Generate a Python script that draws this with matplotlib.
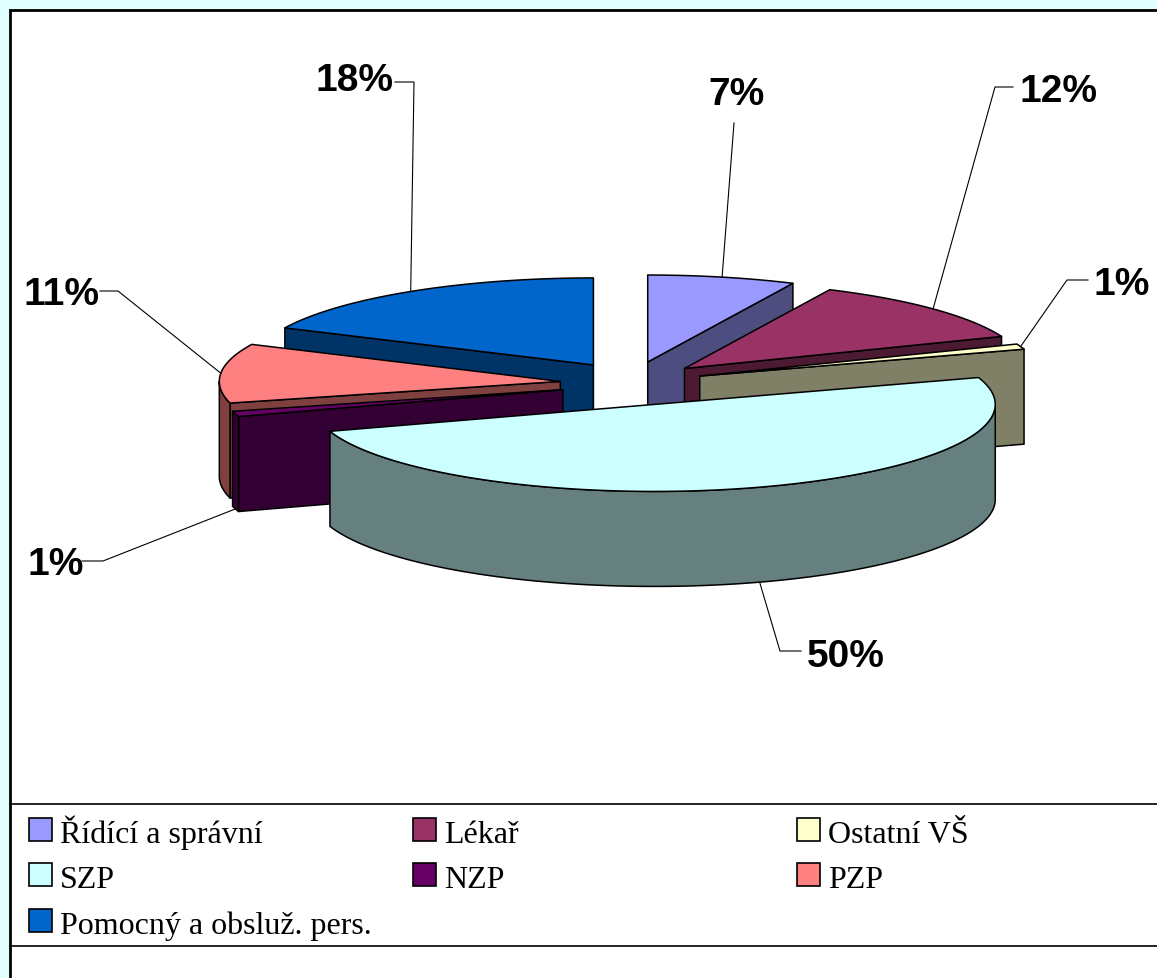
import numpy as np
import matplotlib
matplotlib.use("Agg")
import matplotlib.pyplot as plt
from matplotlib.patches import Polygon, Rectangle
from matplotlib.colors import to_rgb

# ---- data ----
categories = ["Řídící a správní", "Lékař", "Ostatní VŠ", "SZP", "NZP", "PZP",
              "Pomocný a obsluž. pers."]
values = [7, 12, 1, 50, 1, 11, 18]
labels = [f"{v}%" for v in values]

# ---- styles ----
colors = ["#9999FF", "#993366", "#FFFFCC", "#CCFFFF", "#660066", "#FF8080", "#0066CC"]

W, H = 1157, 979
fig = plt.figure(figsize=(W / 100, H / 100), dpi=100)
fig.patch.set_facecolor("#E2FFFF")
ax = fig.add_axes([0, 0, 1, 1])
ax.set_xlim(0, W)
ax.set_ylim(H, 0)
ax.axis("off")
ax.add_patch(Rectangle((10, 11), W + 20, H + 20, facecolor="white",
                       edgecolor="black", lw=2.0, zorder=0))

# ---- 3D pie geometry (pixel space) ----
CX, CY = 632, 384.5
RX, RY = 341, 87
DEPTH = 95
EX, EY = 72, 22


def arc(sx, sy, a0, a1, dz=0.0):
    n = max(2, int(abs(a1 - a0) * 2) + 2)
    th = np.radians(np.linspace(a0, a1, n))
    return np.column_stack([sx + RX * np.sin(th), sy - RY * np.cos(th) + dz])


total = float(sum(values))
starts = np.concatenate([[0], np.cumsum(values)[:-1]]) / total * 360
ends = np.cumsum(values) / total * 360
mids = (starts + ends) / 2

# back-to-front drawing order
order = np.argsort(-np.cos(np.radians(mids)))
ekw = dict(edgecolor="black", lw=1.1, joinstyle="round")

centers = {}
for i in range(len(values)):
    m = np.radians(mids[i])
    centers[i] = (CX + EX * np.sin(m), CY - EY * np.cos(m))

for i in order:
    a0, a1 = starts[i], ends[i]
    sx, sy = centers[i]
    top = colors[i]
    side = tuple(c * 0.5 for c in to_rgb(top))
    # radial faces (only those facing the viewer)
    for ang, vis in ((a0, np.sin(np.radians(a0)) < -1e-6),
                     (a1, np.sin(np.radians(a1)) > 1e-6)):
        if vis:
            e = arc(sx, sy, ang, ang)[0]
            quad = [(sx, sy), tuple(e), (e[0], e[1] + DEPTH), (sx, sy + DEPTH)]
            ax.add_patch(Polygon(quad, closed=True, facecolor=side, zorder=2, **ekw))
    # curved outer side (front half only)
    a, b = max(a0, 90), min(a1, 270)
    if b > a:
        up = arc(sx, sy, a, b)
        dn = arc(sx, sy, a, b, DEPTH)[::-1]
        ax.add_patch(Polygon(np.vstack([up, dn]), closed=True, facecolor=side,
                             zorder=2, **ekw))
    # top face
    pts = np.vstack([[[sx, sy]], arc(sx, sy, a0, a1)])
    ax.add_patch(Polygon(pts, closed=True, facecolor=top, zorder=2, **ekw))

# ---- data labels with leader lines ----
label_text_pos = [(737, 105), (1059, 102), (1122, 295), (846, 667), (56, 575),
                  (61, 305), (355, 91)]
label_elbows = [[(734, 124)], [(1013, 88), (995, 88)], [(1088, 281), (1067, 281)],
                [(801, 652), (780, 652)], [(82, 562), (103, 562)],
                [(100, 292), (118, 292)], [(395, 83), (414, 83)]]

for i in range(len(values)):
    sx, sy = centers[i]
    m = mids[i]
    anc = arc(sx, sy, m, m)[0]
    if np.cos(np.radians(m)) < 0:
        anc = anc + np.array([0, DEPTH])
    pts = np.array(label_elbows[i] + [tuple(anc)])
    ax.plot(pts[:, 0], pts[:, 1], color="black", lw=0.8, zorder=3)
    tx, ty = label_text_pos[i]
    ax.text(tx, ty, labels[i], ha="center", va="baseline", fontsize=28,
            fontweight="bold", family=["Liberation Sans", "DejaVu Sans"], zorder=4)

# ---- legend ----
ax.plot([10, W], [805, 805], color="black", lw=1.2, zorder=3)
ax.plot([10, W], [947, 947], color="black", lw=1.2, zorder=3)
col_x = [29, 413, 797]
row_base = [843, 888, 934]
for i, name in enumerate(categories):
    r, c = divmod(i, 3)
    x0 = col_x[c]
    yb = row_base[r]
    ax.add_patch(Rectangle((x0, yb - 24), 23, 23, facecolor=colors[i],
                           edgecolor="black", lw=1.2, zorder=3))
    ax.text(x0 + 31, yb, name, ha="left", va="baseline", fontsize=23,
            family=["Liberation Serif", "DejaVu Serif"], zorder=4)

fig.savefig("out.png", dpi=100, facecolor=fig.get_facecolor())
